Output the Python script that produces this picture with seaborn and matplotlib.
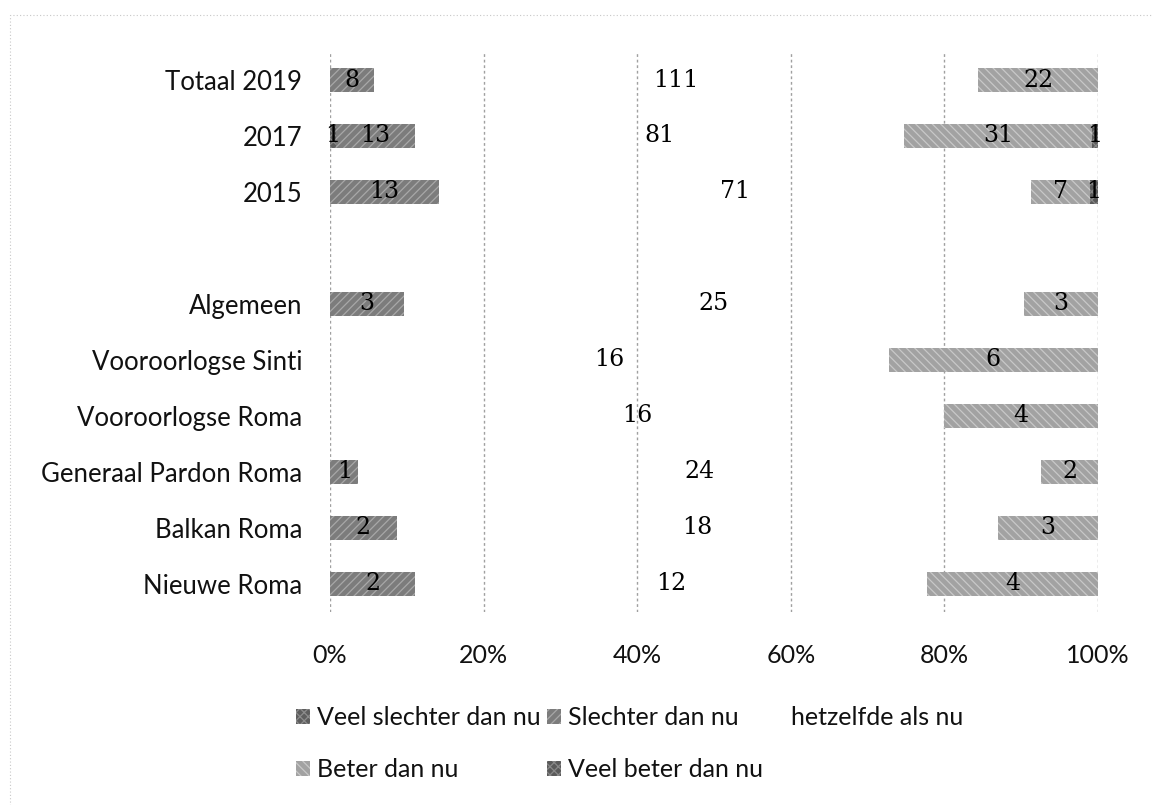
import numpy as np
import matplotlib
matplotlib.use("Agg")
import matplotlib.pyplot as plt
import matplotlib.patches as mpatches
import seaborn as sns

# ── DATA ─────────────────────────────────────────────
categories = ["Totaal 2019", "2017", "2015", " ",
              "Algemeen", "Vooroorlogse Sinti", "Vooroorlogse Roma",
              "Generaal Pardon Roma", "Balkan Roma", "Nieuwe Roma"]

series_names = ["Veel slechter dan nu", "Slechter dan nu", "hetzelfde als nu",
                "Beter dan nu", "Veel beter dan nu"]

veel_slechter = [0, 1, 0, 0, 0, 0, 0, 0, 0, 0]
slechter      = [8, 13, 13, 0, 3, 0, 0, 1, 2, 2]
hetzelfde     = [111, 81, 71, 0, 25, 16, 16, 24, 18, 12]
beter         = [22, 31, 7, 0, 3, 6, 4, 2, 3, 4]
veel_beter    = [0, 1, 1, 0, 0, 0, 0, 0, 0, 0]

x_ticks  = [0, 20, 40, 60, 80, 100]
x_labels = ["0%", "20%", "40%", "60%", "80%", "100%"]

# ── STYLE ────────────────────────────────────────────
sns.set_style("white")
plt.rcParams["font.family"] = ["Lato", "DejaVu Sans"]
plt.rcParams["hatch.linewidth"] = 0.9

face  = ["#5e5e5e", "#7c7c7c", "none", "#a2a2a2", "#5a5a5a"]
hatch = ["xxxx", "////", None, "\\\\\\\\", "xxxx"]
hcol  = ["#8c8c8c", "#a8a8a8", "white", "#c8c8c8", "#888888"]

counts = np.array([veel_slechter, slechter, hetzelfde, beter, veel_beter], dtype=float)
totals = counts.sum(axis=0)
totals[totals == 0] = 1
pct = counts / totals * 100
left = np.vstack([np.zeros(len(categories)), np.cumsum(pct, axis=0)[:-1]])

fig = plt.figure(figsize=(11.53, 8.05), dpi=100)
ax = fig.add_axes([0.2862, 0.2398, 0.6661, 0.6956])

ypos = np.arange(len(categories))
for i, name in enumerate(series_names):
    ax.barh(ypos, pct[i], left=left[i], height=0.43,
            color=face[i], edgecolor=hcol[i], hatch=hatch[i],
            linewidth=0, label=name, zorder=2)
    for j in range(len(categories)):
        if counts[i, j] > 0:
            ax.text(left[i, j] + pct[i, j] / 2, ypos[j], f"{int(counts[i, j])}",
                    ha="center", va="center", fontsize=17,
                    family="DejaVu Serif", color="black", zorder=3)

ax.set_xlim(0, 100)
ax.set_ylim(len(categories) - 0.5, -0.5)
ax.set_yticks(ypos)
ax.set_yticklabels(categories, fontsize=18.5, color="#111111")
ax.set_xticks(x_ticks)
ax.set_xticklabels(x_labels, fontsize=18, color="#111111")
ax.tick_params(axis="y", length=0, pad=20)
ax.tick_params(axis="x", length=0, pad=23)
for s in ax.spines.values():
    s.set_visible(False)
for xv in x_ticks:
    ax.axvline(xv, color="#a0a0a0", linestyle=(0, (2, 2)), linewidth=1.0, zorder=1)

# legend, row-major order like the original
order = [0, 3, 1, 4, 2]
leg_handles = [mpatches.Patch(facecolor=face[k] if face[k] != "none" else "white",
                              edgecolor=hcol[k], hatch=hatch[k], linewidth=0)
               for k in order]
leg = fig.legend(leg_handles, [series_names[k] for k in order],
                 loc="center left", bbox_to_anchor=(0.237, 0.076), ncol=3,
                 frameon=False, fontsize=18, handlelength=0.55, handleheight=0.55,
                 handletextpad=0.3, columnspacing=0.25, labelspacing=1.15)
for t in leg.get_texts():
    t.set_color("#111111")

# faint scanned border
border = mpatches.Rectangle((0.009, -0.1), 1.5, 1.081, transform=fig.transFigure,
                            fill=False, edgecolor="#c8c8c8", linewidth=0.8,
                            linestyle=(0, (1, 2)))
fig.patches.append(border)

fig.savefig("out.png", dpi=100)
